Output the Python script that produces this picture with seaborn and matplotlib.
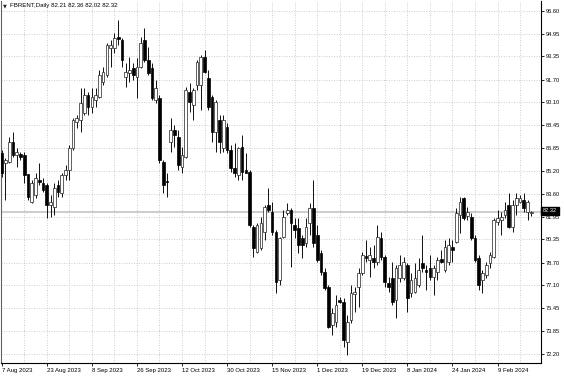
import matplotlib
matplotlib.use("Agg")
import matplotlib.pyplot as plt
import matplotlib.transforms as mtransforms
import seaborn as sns
import numpy as np

# ---------------- data (FBRENT daily) ----------------
opens = [86.49, 85.78, 85.85, 87.27, 86.34, 86.42, 86.34, 84.99, 83.00, 83.50,
         84.57, 84.35, 84.21, 82.79, 82.65, 84.21, 83.64, 84.92, 85.28, 86.84,
         88.69, 88.83, 89.33, 90.61, 89.76, 90.25, 90.47, 91.53, 92.03, 93.95,
         93.95, 94.73, 94.52, 91.89, 92.17, 92.53, 91.89, 92.60, 94.52, 93.10,
         92.53, 90.25, 90.40, 85.85, 84.50, 87.27, 88.12, 87.62, 85.49, 86.20,
         90.82, 89.90, 91.32, 91.32, 93.31, 91.82, 90.47, 87.98, 88.83, 86.84,
         88.33, 86.70, 85.42, 84.92, 86.91, 85.28, 85.14, 81.23, 79.45, 79.74,
         80.87, 82.79, 82.29, 80.87, 77.46, 80.52, 82.22, 82.44, 81.37, 81.16,
         80.45, 80.09, 81.51, 82.58, 80.66, 79.38, 78.03, 76.96, 74.26, 74.48,
         76.04, 75.90, 73.05, 74.62, 76.47, 76.96, 77.96, 79.17, 78.88, 79.02,
         78.74, 80.45, 79.10, 77.25, 77.60, 76.04, 77.60, 77.60, 78.53, 76.54,
         76.61, 77.11, 78.67, 78.17, 78.31, 77.67, 78.03, 78.95, 78.17, 78.74,
         79.81, 80.16, 82.08, 83.29, 82.01, 81.94, 80.45, 79.02, 77.46, 77.82,
         78.67, 79.10, 81.58, 81.73, 82.08, 82.79, 81.23, 82.79, 83.00, 83.15,
         82.29, 82.21]
highs = [86.70, 86.13, 87.62, 87.98, 86.84, 86.56, 86.56, 84.99, 84.57, 85.07,
         85.78, 84.71, 84.35, 83.50, 84.35, 84.57, 85.07, 85.63, 87.06, 88.97,
         89.19, 91.11, 91.11, 90.82, 91.11, 91.11, 92.39, 92.60, 94.30, 94.52,
         95.01, 95.94, 94.66, 92.88, 93.31, 92.88, 93.24, 94.73, 95.37, 94.02,
         92.88, 91.67, 90.61, 85.99, 85.07, 88.97, 88.48, 88.12, 86.91, 91.18,
         91.46, 91.11, 93.10, 93.45, 93.81, 92.39, 90.61, 90.25, 89.19, 89.19,
         88.62, 87.06, 87.20, 86.91, 87.77, 86.49, 85.28, 81.37, 81.51, 81.94,
         82.79, 84.00, 83.00, 81.01, 80.52, 82.44, 82.93, 82.58, 81.87, 81.87,
         80.66, 81.87, 82.93, 84.57, 81.37, 79.59, 78.31, 77.11, 75.47, 76.39,
         76.25, 76.18, 74.97, 77.11, 76.96, 78.31, 79.45, 80.30, 79.81, 79.95,
         81.37, 80.87, 79.24, 77.67, 78.74, 78.53, 79.24, 79.10, 78.67, 77.96,
         78.67, 79.02, 80.66, 78.53, 79.24, 78.53, 79.10, 79.59, 80.30, 80.45,
         80.30, 82.58, 83.36, 83.36, 82.65, 82.22, 80.66, 79.24, 78.17, 78.74,
         79.45, 81.87, 82.44, 82.29, 83.00, 83.64, 83.15, 83.64, 83.50, 83.64,
         83.15, 82.36]
lows = [84.78, 83.15, 85.78, 86.20, 85.49, 85.99, 84.35, 83.15, 82.93, 83.29,
        84.21, 83.71, 81.87, 81.94, 82.08, 83.36, 83.36, 84.57, 84.57, 86.70,
        88.26, 87.98, 89.19, 89.19, 89.33, 89.76, 90.40, 91.32, 91.89, 92.60,
        93.59, 94.16, 92.60, 91.18, 91.53, 91.67, 90.40, 92.53, 92.95, 92.03,
        90.25, 90.04, 85.78, 83.64, 83.36, 86.56, 86.91, 85.28, 85.07, 86.13,
        89.40, 88.83, 90.96, 89.54, 92.17, 89.54, 87.27, 86.56, 86.49, 86.56,
        86.49, 85.14, 84.78, 84.57, 84.57, 85.07, 81.23, 79.10, 79.38, 79.59,
        80.30, 82.29, 80.66, 76.54, 77.11, 80.45, 82.08, 78.38, 80.45, 79.38,
        79.02, 79.81, 80.66, 79.81, 78.74, 77.82, 76.75, 74.05, 73.55, 74.12,
        75.83, 72.70, 72.13, 74.40, 75.19, 75.54, 77.82, 78.74, 77.67, 78.31,
        78.53, 78.88, 76.96, 76.61, 75.68, 74.76, 77.32, 77.46, 75.19, 76.25,
        76.54, 76.96, 78.03, 76.75, 77.46, 76.39, 77.46, 78.67, 78.03, 78.53,
        78.74, 80.09, 80.80, 81.73, 81.73, 80.30, 78.74, 76.75, 76.54, 77.60,
        78.31, 79.02, 81.37, 80.66, 81.87, 81.16, 80.87, 82.08, 82.93, 82.29,
        81.73, 82.02]
closes = [85.07, 85.99, 87.27, 86.34, 86.56, 86.20, 84.92, 83.36, 84.35, 84.71,
          84.43, 83.86, 82.79, 83.00, 84.00, 83.71, 84.92, 85.28, 86.84, 88.83,
          88.97, 90.04, 90.61, 89.76, 90.47, 90.61, 92.03, 92.24, 94.16, 94.16,
          94.66, 94.59, 93.10, 92.24, 92.39, 92.03, 92.60, 94.30, 93.10, 92.17,
          90.40, 91.11, 85.99, 84.21, 84.43, 88.12, 87.77, 85.63, 86.34, 90.96,
          90.11, 90.96, 92.95, 93.31, 92.24, 89.76, 87.98, 90.11, 87.27, 88.83,
          86.70, 85.42, 85.07, 86.84, 85.14, 85.07, 81.37, 79.74, 81.37, 81.51,
          82.65, 82.44, 80.87, 77.32, 80.45, 81.94, 82.44, 81.51, 81.01, 79.95,
          79.95, 81.23, 82.58, 80.09, 78.88, 78.03, 76.89, 74.12, 75.12, 75.68,
          75.90, 73.20, 74.48, 76.54, 76.61, 77.96, 79.24, 79.02, 79.24, 78.74,
          80.52, 79.10, 77.32, 76.96, 75.90, 78.31, 78.53, 78.74, 76.18, 77.46,
          77.60, 78.17, 78.31, 78.03, 77.67, 78.31, 78.88, 78.74, 79.81, 79.95,
          79.59, 82.22, 83.00, 81.87, 82.29, 80.45, 78.88, 77.11, 77.96, 78.53,
          79.24, 81.73, 81.87, 81.94, 82.44, 81.23, 82.79, 83.29, 83.29, 82.58,
          83.00, 82.32]

date_labels = ["7 Aug 2023", "23 Aug 2023", "8 Sep 2023", "26 Sep 2023",
               "12 Oct 2023", "30 Oct 2023", "15 Nov 2023", "1 Dec 2023",
               "19 Dec 2023", "8 Jan 2024", "24 Jan 2024", "9 Feb 2024"]
label_step = 12          # bars between date labels
grid_step = 6            # bars between vertical grid lines

price_ticks = ["96.60", "94.95", "93.35", "91.70", "90.10", "88.45", "86.85",
               "85.20", "83.60", "81.95", "80.35", "78.70", "77.10", "75.45",
               "73.85", "72.20"]
bid = 82.32
title = "FBRENT,Daily 82.21 82.36 82.02 82.32"

# ---------------- drawing ----------------
sns.set_style("white")
plt.rcParams["font.family"] = ["Liberation Sans", "DejaVu Sans"]

W, H = 564, 376
fig = plt.figure(figsize=(W / 100, H / 100), dpi=100)
fig.patch.set_facecolor("white")
ax = fig.add_axes([1 / W, 13 / H, 540 / W, 362 / H])
ax.set_facecolor("white")

n = len(closes)
xs = np.arange(n)
o = np.array(opens); c = np.array(closes)
h = np.array(highs); l = np.array(lows)

ax.set_xlim(-0.19, 143.58)
ax.set_ylim(71.56, 97.29)

grid_kw = dict(color="#c8c8c8", lw=0.6, linestyle=(0, (1.2, 1.8)), zorder=0)
for t in price_ticks:
    ax.axhline(float(t), **grid_kw)
for gx in range(grid_step, int(ax.get_xlim()[1]) + 1, grid_step):
    ax.axvline(gx, **grid_kw)

# bid line
ax.axhline(bid, color="#c8c8c8", lw=1.3, zorder=1)

# wicks
ax.vlines(xs, l, h, color="black", lw=0.65, zorder=2)

# bodies
up = c >= o
bottoms = np.minimum(o, c)
heights = np.maximum(np.abs(c - o), 0.02)
ax.bar(xs[up], heights[up], bottom=bottoms[up], width=0.72,
       facecolor="white", edgecolor="#202020", linewidth=0.5, zorder=3)
ax.bar(xs[~up], heights[~up], bottom=bottoms[~up], width=0.72,
       facecolor="black", edgecolor="black", linewidth=0.5, zorder=3)

# axes, ticks
ax.spines["top"].set_visible(False)
ax.spines["left"].set_color("#606060")
ax.spines["left"].set_linewidth(0.8)
for side in ["bottom", "right"]:
    ax.spines[side].set_color("black")
    ax.spines[side].set_linewidth(0.8)

ax.yaxis.tick_right()
ax.set_yticks([float(t) for t in price_ticks])
ax.set_yticklabels(price_ticks)
ax.tick_params(axis="y", which="both", length=2, width=0.6, pad=1.2,
               labelsize=4.1, colors="black", right=True, left=False)

ax.set_xticks(np.arange(len(date_labels)) * label_step)
ax.set_xticklabels(date_labels)
ax.tick_params(axis="x", length=2.5, width=0.6, pad=0.8, labelsize=4.3,
               colors="black", bottom=True)
for lab in ax.get_xticklabels():
    lab.set_horizontalalignment("left")

# current price box on the right axis
trans = mtransforms.blended_transform_factory(ax.transAxes, ax.transData)
ax.text(1.004, bid + 0.05, f"{bid:.2f}", transform=trans, ha="left",
        va="center", fontsize=4.1, color="white", clip_on=False, zorder=10,
        bbox=dict(boxstyle="square,pad=0.3", facecolor="black",
                  edgecolor="black"))

# header
fig.text(2.5 / W, 1 - 5.5 / H, "▼", fontsize=3.6, ha="left", va="center",
         family=["DejaVu Sans"])
fig.text(10 / W, 1 - 5.5 / H, title, fontsize=4.4, ha="left", va="center",
         color="black")

fig.savefig("out.png", dpi=100, facecolor="white")
